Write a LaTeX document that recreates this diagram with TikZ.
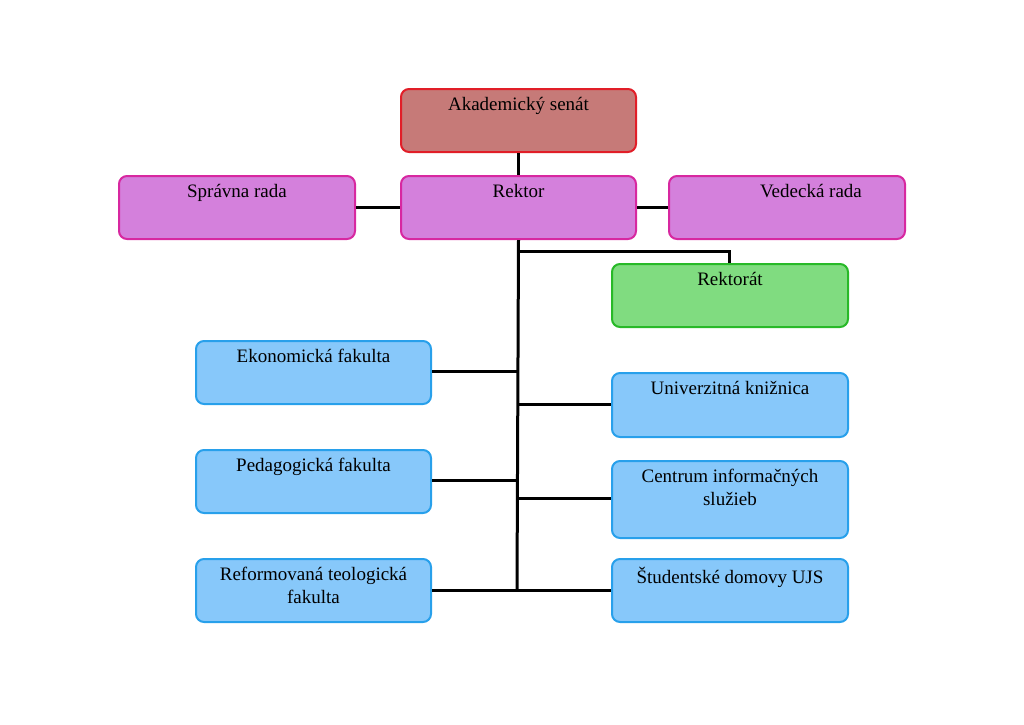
\documentclass[tikz,border=0pt]{standalone}
\usepackage{fontspec}
\setmainfont{Liberation Serif}
\begin{document}
\begin{tikzpicture}[x=0.5pt,y=-0.5pt,
  bx/.style={draw,line width=1pt,rounded corners=4pt,anchor=north west,inner sep=0pt},
  lbl/.style={anchor=north,align=center,font=\fontsize{9.5}{11.5}\selectfont,inner sep=0pt,yshift=-4.5pt},
  ln/.style={line width=1.5pt}]
\useasboundingbox (0,0) rectangle (1024,724);
\definecolor{redb}{RGB}{198,122,120}\definecolor{redd}{RGB}{225,30,40}
\definecolor{magb}{RGB}{212,128,220}\definecolor{magd}{RGB}{215,40,160}
\definecolor{grnb}{RGB}{128,220,128}\definecolor{grnd}{RGB}{40,185,40}
\definecolor{blub}{RGB}{135,200,250}\definecolor{blud}{RGB}{40,160,235}
\tikzset{
 mk/.style n args={6}{}}
\newcommand\bxx[7]{\node[bx,draw=#6,fill=#7,minimum width=#4*0.5pt,minimum height=#5*0.5pt] (#1) at (#2,#3) {};
 \node[lbl] (#1t) at (#1.north) {\strut\ignorespaces};}
% boxes
\node[bx,draw=redd,fill=redb,minimum width=117.5pt,minimum height=31.5pt] (as) at (400,88) {};
\node[bx,draw=magd,fill=magb,minimum width=118pt,minimum height=31.5pt] (sr) at (118,175) {};
\node[bx,draw=magd,fill=magb,minimum width=117.5pt,minimum height=31.5pt] (rk) at (400,175) {};
\node[bx,draw=magd,fill=magb,minimum width=118pt,minimum height=31.5pt] (vr) at (668,175) {};
\node[bx,draw=grnd,fill=grnb,minimum width=118pt,minimum height=31.5pt] (ra) at (611,263) {};
\node[bx,draw=blud,fill=blub,minimum width=117.5pt,minimum height=31.5pt] (ef) at (195,340) {};
\node[bx,draw=blud,fill=blub,minimum width=118pt,minimum height=32pt] (uk) at (611,372) {};
\node[bx,draw=blud,fill=blub,minimum width=117.5pt,minimum height=31.5pt] (pf) at (195,449) {};
\node[bx,draw=blud,fill=blub,minimum width=118pt,minimum height=38.5pt] (ci) at (611,460) {};
\node[bx,draw=blud,fill=blub,minimum width=117.5pt,minimum height=31.5pt] (rt) at (195,558) {};
\node[bx,draw=blud,fill=blub,minimum width=118pt,minimum height=31.5pt] (sd) at (611,558) {};
% labels
\node[lbl] (ast) at (as.north) {Akademický senát};
\node[lbl] (srt) at (sr.north) {Správna rada};
\node[lbl] (rkt) at (rk.north) {Rektor};
\node[lbl,xshift=12pt] (vrt) at (vr.north) {Vedecká rada};
\node[lbl] (rat) at (ra.north) {Rektorát};
\node[lbl] (eft) at (ef.north) {Ekonomická fakulta};
\node[lbl] (ukt) at (uk.north) {Univerzitná knižnica};
\node[lbl] (pft) at (pf.north) {Pedagogická fakulta};
\node[lbl] (cit) at (ci.north) {Centrum informačných\\služieb};
\node[lbl] (rtt) at (rt.north) {Reformovaná teologická\\fakulta};
\node[lbl] (sdt) at (sd.north) {Študentské domovy UJS};
% connectors
\coordinate (tb) at (517,590);
\draw[ln] (as.south) -- (rk.north);
\draw[ln] (sr.east) -- (rk.west);
\draw[ln] (rk.east) -- (vr.east-|vr.west);
\draw[ln] (rk.south) -- (tb);
\draw[ln] (517,251) -| (ra.north-|729,0);
\draw[ln] (ef.east|-0,371) -- (517,371);
\draw[ln] (517,404) -- (uk.west|-0,404);
\draw[ln] (pf.east|-0,480) -- (517,480);
\draw[ln] (517,498) -- (ci.west|-0,498);
\draw[ln] (rt.east|-tb) -- (sd.west|-tb);
\end{tikzpicture}
\end{document}
